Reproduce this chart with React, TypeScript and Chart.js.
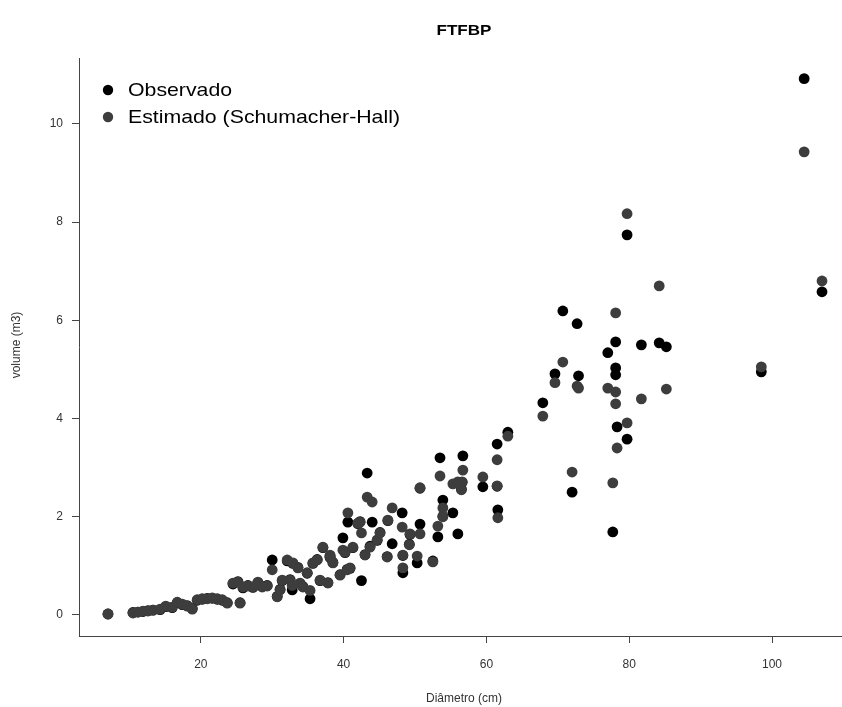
import React, { useEffect, useRef } from "react";
import { Chart, registerables } from "chart.js";

Chart.register(...registerables);

const titulo = "FTFBP";
const xTitulo = "Diâmetro (cm)";
const yTitulo = "volume (m3)";
const legendas = ["Observado", "Estimado (Schumacher-Hall)"];
const xTicks = [20, 40, 60, 80, 100];
const yTicks = [0, 2, 4, 6, 8, 10];

const diametro = [
  7.0, 10.5, 11.2, 11.9, 12.6, 13.3, 14.3, 15.1, 16.0, 16.7,
  17.4, 18.1, 18.8, 19.5, 20.2, 20.9, 21.6, 22.3, 23.0, 23.7,
  24.5, 25.2, 25.5, 25.9, 26.6, 27.3, 28.0, 28.6, 29.3, 30.0,
  30.7, 31.1, 31.4, 32.1, 32.5, 32.8, 32.9, 33.6, 33.9, 34.3,
  34.9, 35.3, 35.7, 36.3, 36.7, 37.1, 37.8, 38.1, 38.1, 38.5,
  39.5, 39.9, 40.2, 40.6, 40.9, 40.5, 41.3, 42.0, 42.3, 42.5,
  43.0, 43.3, 44.0, 43.7, 44.7, 45.1, 46.1, 46.2, 46.8, 48.2,
  48.3, 48.3, 49.2, 49.3, 50.3, 50.7, 50.7, 52.5, 53.2, 53.5,
  53.9, 53.9, 55.3, 56.0, 56.7, 56.6, 56.5, 59.5, 61.5, 61.5,
  61.6, 63.0, 67.9, 69.6, 70.7, 72.0, 72.7, 72.9, 77.0, 77.7,
  78.1, 78.1, 78.1, 78.3, 79.7, 79.7, 81.7, 84.2, 85.2, 98.5,
  104.5, 107.0,
];

const observado = [
  0.02, 0.05, 0.06, 0.07, 0.09, 0.10, 0.11, 0.17, 0.15, 0.25,
  0.21, 0.19, 0.13, 0.30, 0.32, 0.34, 0.34, 0.32, 0.30, 0.25,
  0.63, 0.68, 0.25, 0.55, 0.60, 0.56, 0.66, 0.58, 0.60, 1.12,
  0.38, 0.52, 0.70, 1.10, 0.72, 0.51, 1.05, 0.97, 0.64, 0.58,
  0.85, 0.33, 1.05, 1.13, 0.70, 1.37, 0.66, 1.20, 1.17, 1.07,
  0.82, 1.57, 1.27, 1.89, 0.95, 0.93, 1.37, 1.86, 1.90, 0.70,
  1.23, 2.89, 1.89, 1.40, 1.52, 1.68, 1.19, 1.92, 1.45, 2.08,
  1.21, 0.86, 1.44, 1.64, 1.06, 1.85, 2.58, 1.10, 1.59, 3.20,
  2.34, 2.01, 2.08, 1.65, 3.24, 2.70, 2.56, 2.61, 3.48, 2.62,
  2.14, 3.72, 4.32, 4.91, 6.19, 2.50, 5.93, 4.87, 5.34, 1.69,
  5.56, 5.03, 4.89, 3.83, 3.58, 7.74, 5.50, 5.54, 5.46, 4.95,
  10.92, 6.58,
];

const estimado = [
  0.02, 0.04, 0.06, 0.08, 0.08, 0.10, 0.12, 0.18, 0.16, 0.26,
  0.22, 0.18, 0.12, 0.31, 0.33, 0.33, 0.35, 0.33, 0.31, 0.24,
  0.65, 0.67, 0.24, 0.57, 0.59, 0.57, 0.67, 0.57, 0.59, 0.92,
  0.37, 0.51, 0.71, 1.12, 0.71, 0.60, 1.06, 0.96, 0.65, 0.57,
  0.86, 0.50, 1.06, 1.12, 0.71, 1.38, 0.65, 1.22, 1.18, 1.06,
  0.81, 1.32, 1.28, 2.08, 0.96, 0.92, 1.38, 1.87, 1.89, 1.67,
  1.22, 2.40, 2.30, 1.38, 1.53, 1.67, 1.18, 1.93, 2.18, 1.79,
  1.22, 0.96, 1.43, 1.65, 1.20, 1.65, 2.59, 1.08, 1.81, 2.83,
  2.18, 2.00, 2.67, 2.71, 2.95, 2.71, 2.55, 2.81, 3.16, 2.63,
  1.98, 3.64, 4.05, 4.73, 5.15, 2.91, 4.66, 4.62, 4.62, 2.69,
  6.15, 4.54, 4.30, 3.40, 3.91, 8.17, 4.40, 6.70, 4.60, 5.05,
  9.43, 6.80,
];

const FONT = "'Liberation Sans', Arial, Helvetica, sans-serif";
const COR_OBS = "#000000";
const COR_EST = "#3d3d3d";

export default function App() {
  const ref = useRef<HTMLCanvasElement | null>(null);

  useEffect(() => {
    document.body.style.margin = "0";
    const canvas = ref.current;
    if (!canvas) return;

    const textos = {
      id: "textosR",
      afterDraw(chart: any) {
        const c = chart.ctx;
        const cx = 464;
        c.save();
        c.textAlign = "center";
        c.textBaseline = "middle";
        c.fillStyle = "#000";
        c.font = `bold 14px ${FONT}`;
        c.save();
        c.translate(cx, 31);
        c.scale(1.22, 1);
        c.fillText(titulo, 0, 0);
        c.restore();

        c.fillStyle = "#333";
        c.font = `12px ${FONT}`;
        c.fillText(xTitulo, cx, 699);
        c.save();
        c.translate(17, 345);
        c.rotate(-Math.PI / 2);
        c.fillText(yTitulo, 0, 0);
        c.restore();

        const cores = [COR_OBS, COR_EST];
        legendas.forEach((t, i) => {
          const y = 90 + i * 27;
          c.beginPath();
          c.arc(108, y, 5.2, 0, Math.PI * 2);
          c.fillStyle = cores[i];
          c.fill();
          c.fillStyle = "#000";
          c.textAlign = "left";
          c.font = `19px ${FONT}`;
          c.save();
          c.translate(128, y + 1);
          c.scale(1.12, 1);
          c.fillText(t, 0, 0);
          c.restore();
        });
        c.restore();
      },
    };

    const chart = new Chart(canvas, {
      type: "scatter",
      data: {
        datasets: [
          {
            label: legendas[0],
            data: diametro.map((d, i) => ({ x: d, y: observado[i] })),
            backgroundColor: COR_OBS,
            borderWidth: 0,
            pointRadius: 5.4,
            order: 1,
          },
          {
            label: legendas[1],
            data: diametro.map((d, i) => ({ x: d, y: estimado[i] })),
            backgroundColor: COR_EST,
            borderWidth: 0,
            pointRadius: 5.4,
            order: 0,
          },
        ],
      },
      options: {
        responsive: false,
        animation: false,
        devicePixelRatio: 1,
        layout: { autoPadding: false, padding: { top: 58, left: 0, right: 0, bottom: 0 } },
        plugins: {
          legend: { display: false },
          tooltip: { enabled: false },
          title: { display: false },
        },
        scales: {
          x: {
            type: "linear",
            min: 2.94,
            max: 109.8,
            afterBuildTicks: (s: any) => {
              s.ticks = xTicks.map((v) => ({ value: v }));
            },
            afterFit: (s: any) => {
              s.height = 71;
            },
            grid: {
              display: true,
              drawOnChartArea: false,
              drawTicks: true,
              tickLength: 7,
              color: "#444",
            },
            border: { display: true, color: "#444", width: 1 },
            ticks: {
              color: "#333",
              font: { size: 12, family: FONT },
              padding: 14,
              maxRotation: 0,
              autoSkip: false,
            },
          },
          y: {
            type: "linear",
            min: -0.428,
            max: 11.34,
            afterBuildTicks: (s: any) => {
              s.ticks = yTicks.map((v) => ({ value: v }));
            },
            afterFit: (s: any) => {
              s.width = 79;
            },
            grid: {
              display: true,
              drawOnChartArea: false,
              drawTicks: true,
              tickLength: 7,
              color: "#444",
            },
            border: { display: true, color: "#444", width: 1 },
            ticks: {
              color: "#333",
              font: { size: 12, family: FONT },
              padding: 9,
              autoSkip: false,
            },
          },
        },
      },
      plugins: [textos],
    });

    return () => chart.destroy();
  }, []);

  return (
    <canvas
      ref={ref}
      width={842}
      height={707}
      style={{ display: "block", width: 842, height: 707 }}
    />
  );
}
